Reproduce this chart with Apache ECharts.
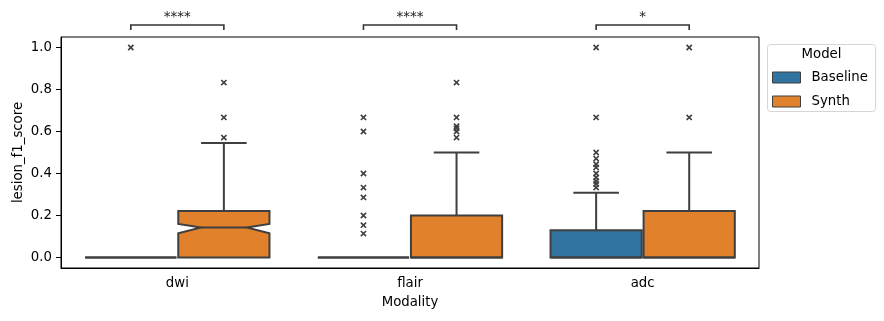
<!DOCTYPE html>
<html>
<head>
<meta charset="utf-8">
<script src="https://cdn.jsdelivr.net/npm/echarts@6/dist/echarts.min.js"></script>
<style>html,body{margin:0;padding:0;background:#fff;}#c{width:884px;height:321px;}</style>
</head>
<body>
<div id="c"></div>
<script>
// ---- data ----
const categories = ['dwi', 'flair', 'adc'];
const models = ['Baseline', 'Synth'];
const yTicks = [0.0, 0.2, 0.4, 0.6, 0.8, 1.0];
// [whiskerLow, q1, median, q3, whiskerHigh]
const baselineStats = [
  [0, 0, 0, 0, 0],
  [0, 0, 0, 0, 0],
  [0, 0, 0, 0.13, 0.308]
];
const synthStats = [
  [0, 0, 0.143, 0.222, 0.545],
  [0, 0, 0, 0.2, 0.5],
  [0, 0, 0, 0.222, 0.5]
];
// notch [low, high] (null = no visible notch)
const baselineNotch = [null, null, null];
const synthNotch = [[0.115, 0.16], null, null];
const baselineOutliers = [
  [1.0],
  [0.667, 0.6, 0.4, 0.333, 0.286, 0.2, 0.154, 0.114],
  [1.0, 0.667, 0.5, 0.471, 0.444, 0.429, 0.4, 0.381, 0.364, 0.35, 0.333]
];
const synthOutliers = [
  [0.833, 0.667, 0.571],
  [0.833, 0.667, 0.625, 0.615, 0.6, 0.571],
  [1.0, 0.667]
];
const sigLabels = ['****', '****', '*'];
const bracketLevels = [1.083, 1.107, 1.145]; // leg bottom, bar, text

// ---- styling ----
const FONT = 'DejaVu Sans';
const EDGE = '#3f3f3f';
const colors = {Baseline: '#3274a1', Synth: '#e1812c'};

function boxRenderer(stats, notches, outliers, fill, sign) {
  return function (params, api) {
    const i = params.dataIndex;
    const cat = api.value(0);
    const band = api.size([1, 0])[0];
    const cx = api.coord([cat, 0])[0] + sign * 0.2 * band;
    const hw = 0.392 * band / 2;
    const L = cx - hw, R = cx + hw;
    const y = v => api.coord([cat, v])[1];
    const s = stats[i];
    const [wlo, q1, med, q3, whi] = s;
    const children = [];
    const lineStyle = {stroke: EDGE, lineWidth: 2};
    if (whi > q3) {
      children.push({type: 'line', shape: {x1: cx, y1: y(q3), x2: cx, y2: y(whi)}, style: lineStyle});
      children.push({type: 'line', shape: {x1: cx - hw / 2, y1: y(whi), x2: cx + hw / 2, y2: y(whi)}, style: lineStyle});
    }
    if (wlo < q1) {
      children.push({type: 'line', shape: {x1: cx, y1: y(q1), x2: cx, y2: y(wlo)}, style: lineStyle});
      children.push({type: 'line', shape: {x1: cx - hw / 2, y1: y(wlo), x2: cx + hw / 2, y2: y(wlo)}, style: lineStyle});
    }
    const n = notches[i];
    let mL = L, mR = R;
    if (n) {
      const nL = cx - hw / 2, nR = cx + hw / 2;
      mL = nL; mR = nR;
      children.push({type: 'polygon', shape: {points: [
        [L, y(q1)], [R, y(q1)], [R, y(n[0])], [nR, y(med)], [R, y(n[1])], [R, y(q3)],
        [L, y(q3)], [L, y(n[1])], [nL, y(med)], [L, y(n[0])]
      ]}, style: {fill: fill, stroke: EDGE, lineWidth: 2, lineJoin: 'miter'}});
    } else {
      children.push({type: 'rect', shape: {x: L, y: y(q3), width: R - L, height: y(q1) - y(q3)},
        style: {fill: fill, stroke: EDGE, lineWidth: 2}});
    }
    children.push({type: 'line', shape: {x1: mL, y1: y(med), x2: mR, y2: y(med)}, style: lineStyle});
    const r = 2.6;
    outliers[i].forEach(v => {
      const py = y(v);
      children.push({type: 'line', shape: {x1: cx - r, y1: py - r, x2: cx + r, y2: py + r}, style: {stroke: EDGE, lineWidth: 1.6}});
      children.push({type: 'line', shape: {x1: cx - r, y1: py + r, x2: cx + r, y2: py - r}, style: {stroke: EDGE, lineWidth: 1.6}});
    });
    return {type: 'group', children: children};
  };
}

function sigRenderer(params, api) {
  const i = params.dataIndex;
  const cat = api.value(0);
  const band = api.size([1, 0])[0];
  const c = api.coord([cat, 0])[0];
  const x1 = c - 0.2 * band, x2 = c + 0.2 * band;
  const yLeg = api.coord([cat, bracketLevels[0]])[1];
  const yBar = api.coord([cat, bracketLevels[1]])[1];
  const yTxt = api.coord([cat, bracketLevels[2]])[1];
  return {type: 'group', children: [
    {type: 'polyline', shape: {points: [[x1, yLeg], [x1, yBar], [x2, yBar], [x2, yLeg]]},
      style: {stroke: '#333', lineWidth: 1.6, fill: null}},
    {type: 'text', x: c, y: yTxt, style: {text: sigLabels[i], font: '13.5px "DejaVu Sans"', fill: '#222',
      align: 'center', verticalAlign: 'middle'}}
  ]};
}

const chart = echarts.init(document.getElementById('c'), null, {renderer: 'canvas'});
chart.setOption({
  animation: false,
  textStyle: {fontFamily: FONT},
  grid: {left: 61, right: 125, top: 37, bottom: 53, show: true, borderColor: '#000', borderWidth: 1, backgroundColor: 'transparent'},
  xAxis: {
    type: 'category', data: categories,
    name: 'Modality', nameLocation: 'middle', nameGap: 28, nameMoveOverlap: false,
    nameTextStyle: {fontFamily: FONT, fontSize: 13.3, color: '#000'},
    axisLine: {onZero: false, lineStyle: {color: '#000', width: 1}},
    axisTick: {alignWithLabel: true, length: 5, lineStyle: {color: '#000'}},
    axisLabel: {fontFamily: FONT, fontSize: 13.3, color: '#000', margin: 9},
    splitLine: {show: false}
  },
  yAxis: {
    type: 'value', min: -0.05, max: 1.05,
    name: 'lesion_f1_score', nameLocation: 'middle', nameGap: 36, nameMoveOverlap: false,
    nameTextStyle: {fontFamily: FONT, fontSize: 13.3, color: '#000'},
    axisLine: {show: true, onZero: false, lineStyle: {color: '#000', width: 1}},
    axisTick: {show: true, length: 5, customValues: yTicks, lineStyle: {color: '#000'}},
    axisLabel: {fontFamily: FONT, fontSize: 13.3, color: '#000', margin: 9, customValues: yTicks,
      formatter: v => v.toFixed(1)},
    splitLine: {show: false}
  },
  legend: {
    orient: 'vertical', left: 772, top: 71, padding: 0, z: 10,
    itemWidth: 28, itemHeight: 11, itemGap: 11, selectedMode: false, icon: 'rect',
    textStyle: {fontFamily: FONT, fontSize: 13.3, color: '#000', lineHeight: 11, padding: [0, 0, 0, 6]},
    data: models.map(m => ({name: m, icon: 'rect', itemStyle: {color: colors[m], borderColor: EDGE, borderWidth: 1}}))
  },
  graphic: [
    {type: 'rect', left: 767, top: 44, z: 1, shape: {width: 108, height: 67, r: 3},
      style: {fill: '#fff', stroke: '#d5d5d5', lineWidth: 1}},
    {type: 'text', x: 821.5, y: 55, z: 2, style: {text: 'Model', font: '13.3px "DejaVu Sans"', fill: '#000', align: 'center', verticalAlign: 'middle'}}
  ],
  series: [
    {type: 'custom', name: 'Baseline', clip: false, itemStyle: {color: colors.Baseline},
      data: categories.map((c, i) => [i].concat(baselineStats[i])),
      encode: {x: 0, y: [1, 2, 3, 4, 5]},
      renderItem: boxRenderer(baselineStats, baselineNotch, baselineOutliers, colors.Baseline, -1)},
    {type: 'custom', name: 'Synth', clip: false, itemStyle: {color: colors.Synth},
      data: categories.map((c, i) => [i].concat(synthStats[i])),
      encode: {x: 0, y: [1, 2, 3, 4, 5]},
      renderItem: boxRenderer(synthStats, synthNotch, synthOutliers, colors.Synth, 1)},
    {type: 'custom', name: 'sig', clip: false, silent: true,
      data: categories.map((c, i) => [i, 0]),
      encode: {x: 0, y: 1},
      renderItem: sigRenderer}
  ]
});
</script>
</body>
</html>
